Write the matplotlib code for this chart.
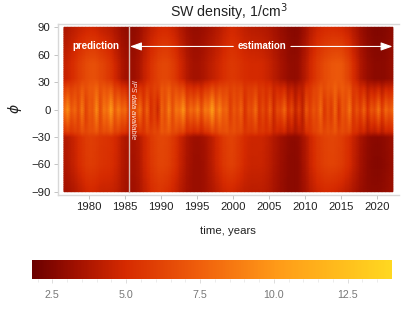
import matplotlib
matplotlib.use("Agg")
import matplotlib.pyplot as plt
from matplotlib.colors import LinearSegmentedColormap
import numpy as np

plt.rcParams["font.family"] = ["Liberation Sans", "DejaVu Sans"]

# yearly nodes
north_pole = [3.6, 4.2, 4.5, 4.8, 4.8, 4.3, 4.2, 3.6, 3.0, 2.7,
              3.0, 3.8, 4.5, 4.9, 5.0, 4.6, 3.8, 3.2, 2.9, 3.2,
              3.5, 3.9, 4.5, 5.0, 4.6, 4.2, 4.0, 4.0, 3.8, 3.4,
              3.0, 2.7, 2.5, 3.2, 4.2, 4.8, 5.0, 5.0, 4.9, 4.6,
              3.8, 3.0, 2.6, 2.4, 2.5, 2.8]
north_mid = [4.4, 5.2, 6.0, 6.7, 6.9, 6.2, 5.8, 4.6, 3.5, 3.0,
             3.4, 4.6, 5.6, 6.3, 6.5, 5.8, 4.7, 3.7, 3.2, 3.7,
             4.2, 4.7, 5.3, 5.8, 5.4, 5.0, 4.9, 5.0, 4.6, 4.0,
             3.4, 2.9, 2.8, 3.8, 5.1, 6.0, 6.7, 7.1, 7.3, 6.4,
             4.8, 3.5, 2.9, 2.7, 2.7, 3.1]
south_mid = [3.8, 4.5, 5.3, 6.0, 5.9, 5.4, 5.4, 5.0, 3.8, 3.4,
             3.7, 5.0, 5.9, 6.4, 6.3, 5.6, 4.4, 3.5, 3.1, 3.3,
             4.0, 5.0, 5.9, 6.3, 5.6, 4.8, 4.6, 4.8, 4.4, 3.7,
             3.2, 2.8, 2.7, 3.6, 5.0, 5.8, 6.2, 6.3, 6.0, 5.4,
             4.3, 3.3, 2.8, 2.6, 2.8, 3.2]
south_pole = [3.4, 3.7, 4.3, 4.9, 4.9, 4.4, 4.6, 4.4, 3.5, 3.1,
              3.5, 4.4, 5.3, 5.6, 5.3, 4.7, 3.9, 3.3, 3.0, 3.2,
              3.7, 4.2, 4.8, 4.9, 4.5, 4.2, 4.1, 4.2, 4.0, 3.4,
              3.0, 2.7, 2.7, 3.3, 4.3, 4.8, 5.0, 4.9, 4.6, 4.2,
              3.6, 3.0, 2.8, 2.7, 2.9, 3.2]

# half-yearly nodes along the equator
half_years = [1976.5 + 0.5 * i for i in range(92)]
equator = [7.8, 9.6, 7.0, 8.0, 6.4, 8.8, 6.0, 7.4, 7.0, 9.6,
           6.4, 8.6, 8.0, 10.4, 7.2, 9.0, 7.6, 8.2, 5.4, 7.0,
           6.6, 8.4, 5.6, 7.8, 5.0, 6.2, 4.6, 7.8, 6.6, 9.0,
           6.6, 8.6, 8.0, 10.0, 6.8, 8.2, 7.4, 9.0, 6.6, 8.8,
           8.2, 10.6, 7.4, 9.2, 7.4, 8.0, 5.8, 7.2, 6.4, 7.8,
           5.2, 6.8, 6.4, 8.2, 5.4, 6.6, 5.4, 7.4, 4.8, 6.6,
           6.2, 8.0, 5.2, 6.6, 4.4, 6.0, 4.2, 7.2, 5.8, 7.0,
           6.4, 8.2, 5.4, 6.8, 5.6, 8.0, 5.2, 7.2, 6.6, 8.6,
           5.6, 7.0, 5.8, 7.8, 5.2, 7.2, 6.4, 8.6, 5.8, 8.0,
           7.0, 8.0]

latitudes = [-90, -60, -30, -24, -10, 0, 10, 24, 34, 50, 90]
colorbar_ticks = [2.5, 5.0, 7.5, 10.0, 12.5]
x_ticks = list(range(1980, 2025, 5))
y_ticks = list(range(-90, 91, 30))

hot_colors = ["#6a0000", "#a01000", "#d62a00", "#f0600c", "#ff9a18", "#ffd820"]
hot_stops = [0.0, 0.12, 0.26, 0.47, 0.68, 1.0]
cmap = LinearSegmentedColormap.from_list("sw", list(zip(hot_stops, hot_colors)))


# Put the yearly rows on the half-year grid, lightly smoothed so no steps show
def on_grid(values):
    doubled = np.repeat(np.asarray(values, dtype=float), 2)
    padded = np.pad(doubled, 2, mode="edge")
    return np.convolve(padded, [0.1, 0.2, 0.4, 0.2, 0.1], mode="valid")


eq = np.asarray(equator)
n_pole, n_mid = on_grid(north_pole), on_grid(north_mid)
s_mid, s_pole = on_grid(south_mid), on_grid(south_pole)
rows = np.array([s_pole, s_mid - 0.1, s_mid,
                 0.3 * eq + 0.7 * s_mid + 0.4,
                 0.75 * eq + 0.25 * s_mid,
                 eq,
                 0.75 * eq + 0.25 * n_mid,
                 0.3 * eq + 0.7 * n_mid + 0.3,
                 n_mid, n_mid, n_pole])

# Denser latitude rows, otherwise gouraud shows diagonal triangles
lat_rows = np.arange(-90, 91, 2)
density = np.array([np.interp(lat_rows, latitudes, column) for column in rows.T]).T

x_grid = np.linspace(1976.5, 2022.15, len(half_years))
figure = plt.figure(figsize=(4.07, 3.13), dpi=100)
W, H = 407.0, 313.0
axis = figure.add_axes([57.5 / W, 1 - 195 / H, (399 - 57.5) / W, (195 - 24) / H])

mesh = axis.pcolormesh(x_grid, lat_rows, density, cmap=cmap, vmin=1.8, vmax=14,
                       shading="gouraud", rasterized=True)
axis.set_xlim(1975.6, 2023.0)
axis.set_ylim(-93.6, 93.6)
axis.set_xticks(x_ticks)
axis.set_yticks(y_ticks)
axis.set_yticklabels([str(t).replace("-", "\u2212") for t in y_ticks])
axis.tick_params(length=3, width=0.7, color="#c4c4c4", labelsize=8.2, labelcolor="#222222", pad=2)
axis.spines["right"].set_visible(False)
for side in ["left", "bottom", "top"]:
    axis.spines[side].set_color("#d8d8d8")
    axis.spines[side].set_linewidth(1.0)

axis.set_title("SW density, 1/cm$^3$", fontsize=10.2, color="#222222", pad=5, x=0.502,
               math_fontfamily="dejavusans")
figure.text(228 / W, 1 - 231 / H, "time, years", fontsize=8.2, color="#222222", ha="center", va="center")
figure.text(15 / W, 1 - 109 / H, r"$\phi$", fontsize=10, color="#222222", rotation=90, ha="center", va="center")

# Annotations
start_year = 1985.46
axis.axvline(start_year, ymin=0.02, ymax=0.98, color="#d8b8b0", linewidth=1.0)
axis.text(1980.9, 69, "prediction", color="white", fontsize=7, fontweight="bold", ha="center", va="center")
axis.text(2004.0, 69, "estimation", color="white", fontsize=7, fontweight="bold", ha="center", va="center")
arrow_style = dict(arrowstyle="-|>,head_length=0.7,head_width=0.25", color="white", linewidth=0.8,
                   shrinkA=0, shrinkB=0)
axis.annotate("", xy=(start_year + 0.2, 69), xytext=(2000.0, 69), arrowprops=arrow_style)
axis.annotate("", xy=(2022.1, 69), xytext=(2008.0, 69), arrowprops=arrow_style)
axis.text(start_year + 0.55, 32, "IPS data available", color="white", fontsize=5.3, rotation=-90,
          style="italic", ha="center", va="top", alpha=0.9)

# Colorbar
cbar_axis = figure.add_axes([31.7 / W, 1 - 279 / H, (392 - 31.7) / W, 19 / H])
cbar = figure.colorbar(mesh, cax=cbar_axis, orientation="horizontal", ticks=colorbar_ticks)
cbar.outline.set_visible(False)
cbar.ax.set_xticks(np.arange(2.0, 14.0, 0.5), minor=True)
cbar.ax.tick_params(which="major", length=3, width=0.6, color="#d8d8d8", labelsize=7.7,
                    labelcolor="#777777", pad=5)
cbar.ax.tick_params(which="minor", length=1.8, width=0.5, color="#e4e4e4")
cbar.ax.set_xticklabels(["%.1f" % t for t in colorbar_ticks])

figure.savefig("out.png", dpi=100)
